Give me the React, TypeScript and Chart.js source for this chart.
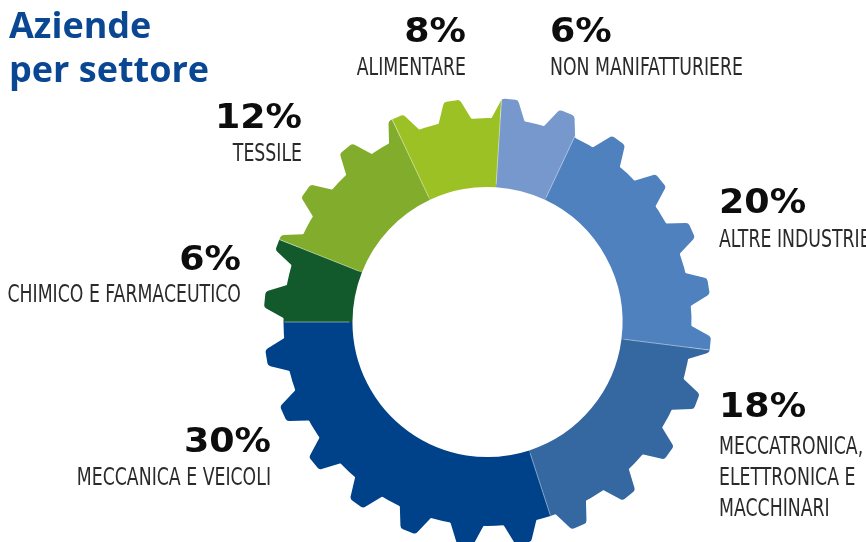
import React, { useEffect, useRef } from "react";
import { Chart, registerables } from "chart.js";

Chart.register(...registerables);

// ---- data ----
const categories = [
  "Non manifatturiere",
  "Altre industrie",
  "Meccatronica, elettronica e macchinari",
  "Meccanica e veicoli",
  "Chimico e farmaceutico",
  "Tessile",
  "Alimentare",
];
const values = [6, 20, 18, 30, 6, 12, 8];
const labelLines = [
  ["NON MANIFATTURIERE"],
  ["ALTRE INDUSTRIE"],
  ["MECCATRONICA,", "ELETTRONICA E", "MACCHINARI"],
  ["MECCANICA E VEICOLI"],
  ["CHIMICO E FARMACEUTICO"],
  ["TESSILE"],
  ["ALIMENTARE"],
];
const colors = ["#7698cd", "#4f81bf", "#3567a1", "#00428a", "#125a2b", "#82ad2c", "#9bc125"];
const titleLines = ["Aziende", "per settore"];

// ---- layout (not data) ----
const labelPos = [
  { x: 550, align: "left", pctY: 42, lineY: 75 },
  { x: 719, align: "left", pctY: 213, lineY: 247 },
  { x: 719, align: "left", pctY: 417, lineY: 454 },
  { x: 271, align: "right", pctY: 452, lineY: 485 },
  { x: 241, align: "right", pctY: 270, lineY: 302 },
  { x: 302, align: "right", pctY: 128, lineY: 161 },
  { x: 466, align: "right", pctY: 42, lineY: 75 },
];
const TEETH = 24;
const TOOTH_PHASE_DEG = 5.8;
const TOOTH_HEIGHT = 20;
const BASE_HALF_PX = 17;
const TIP_HALF_PX = 8;

function gearOutline(cx: number, cy: number, R: number, T: number) {
  const pts: { x: number; y: number; r: number }[] = [];
  const period = (Math.PI * 2) / TEETH;
  const bh = BASE_HALF_PX / R;
  const th = TIP_HALF_PX / T;
  for (let k = 0; k < TEETH; k++) {
    const c = -Math.PI / 2 + (TOOTH_PHASE_DEG * Math.PI) / 180 + k * period;
    pts.push({ x: cx + R * Math.cos(c - bh), y: cy + R * Math.sin(c - bh), r: 3 });
    pts.push({ x: cx + T * Math.cos(c - th), y: cy + T * Math.sin(c - th), r: 4 });
    pts.push({ x: cx + T * Math.cos(c + th), y: cy + T * Math.sin(c + th), r: 4 });
    pts.push({ x: cx + R * Math.cos(c + bh), y: cy + R * Math.sin(c + bh), r: 3 });
  }
  const p = new Path2D();
  const n = pts.length;
  const last = pts[n - 1];
  p.moveTo((last.x + pts[0].x) / 2, (last.y + pts[0].y) / 2);
  for (let i = 0; i < n; i++) {
    const a = pts[i];
    const b = pts[(i + 1) % n];
    p.arcTo(a.x, a.y, b.x, b.y, a.r);
  }
  p.closePath();
  return p;
}

const gearPlugin = {
  id: "gearTeeth",
  afterDatasetsDraw(chart: any) {
    const meta = chart.getDatasetMeta(0);
    const arcs = meta.data;
    if (!arcs.length) return;
    const ctx = chart.ctx as CanvasRenderingContext2D;
    const first = arcs[0].getProps(["x", "y", "outerRadius", "innerRadius"], true);
    const cx = first.x, cy = first.y;
    const R = first.outerRadius - 1;
    const T = first.outerRadius + TOOTH_HEIGHT;
    const outline = gearOutline(cx, cy, R, T);
    outline.arc(cx, cy, first.innerRadius + 3, 0, Math.PI * 2);
    arcs.forEach((arc: any) => {
      const { startAngle, endAngle } = arc.getProps(["startAngle", "endAngle"], true);
      ctx.save();
      ctx.beginPath();
      ctx.moveTo(cx, cy);
      ctx.arc(cx, cy, T + 6, startAngle, endAngle);
      ctx.closePath();
      ctx.clip();
      ctx.fillStyle = arc.options.backgroundColor;
      ctx.fill(outline, "evenodd");
      ctx.restore();
    });
    // thin separators
    ctx.save();
    ctx.clip(outline, "evenodd");
    ctx.strokeStyle = "rgba(255,255,255,0.45)";
    ctx.lineWidth = 1;
    arcs.forEach((arc: any) => {
      const { startAngle } = arc.getProps(["startAngle"], true);
      ctx.beginPath();
      ctx.moveTo(cx + first.innerRadius * Math.cos(startAngle), cy + first.innerRadius * Math.sin(startAngle));
      ctx.lineTo(cx + (T + 4) * Math.cos(startAngle), cy + (T + 4) * Math.sin(startAngle));
      ctx.stroke();
    });
    ctx.restore();
  },
};

const textPlugin = {
  id: "gearText",
  afterDraw(chart: any) {
    const ctx = chart.ctx as CanvasRenderingContext2D;
    ctx.save();
    // title
    ctx.fillStyle = "#0a4793";
    ctx.font = "bold 36px 'Open Sans', 'Noto Sans', sans-serif";
    ctx.textAlign = "left";
    ctx.textBaseline = "alphabetic";
    titleLines.forEach((t, i) => ctx.fillText(t, 9, 38 + i * 44));

    values.forEach((v, i) => {
      const pos = labelPos[i];
      ctx.textAlign = pos.align as CanvasTextAlign;
      // percentage
      ctx.save();
      ctx.translate(pos.x, pos.pctY);
      ctx.scale(1.07, 1);
      ctx.fillStyle = "#0d0d0d";
      ctx.font = "bold 34px 'DejaVu Sans', sans-serif";
      ctx.fillText(`${v}%`, 0, 0);
      ctx.restore();
      // category lines
      labelLines[i].forEach((line, j) => {
        ctx.save();
        ctx.translate(pos.x, pos.lineY + j * 31);
        ctx.scale(0.77, 1);
        ctx.fillStyle = "#2a2a2a";
        ctx.font = "25px 'Liberation Sans Narrow', 'DejaVu Sans Condensed', sans-serif";
        ctx.fillText(line, 0, 0);
        ctx.restore();
      });
    });
    ctx.restore();
  },
};

export default function App() {
  const ref = useRef<HTMLCanvasElement>(null);
  useEffect(() => {
    const canvas = ref.current;
    if (!canvas) return;
    const chart = new Chart(canvas, {
      type: "doughnut",
      data: {
        labels: categories,
        datasets: [
          {
            data: values,
            backgroundColor: colors,
            borderWidth: 0,
            hoverOffset: 0,
          },
        ],
      },
      options: {
        responsive: false,
        animation: false,
        events: [],
        rotation: 3.6,
        cutout: "66.2%",
        radius: 204,
        layout: { padding: { left: 109, top: 102, right: 0, bottom: 0 } },
        plugins: {
          legend: { display: false },
          tooltip: { enabled: false },
          title: { display: false },
        },
      } as any,
      plugins: [gearPlugin, textPlugin],
    });
    return () => chart.destroy();
  }, []);
  return (
    <div style={{ position: "fixed", left: 0, top: 0, width: 866, height: 542, background: "#ffffff" }}>
      <canvas ref={ref} width={866} height={542} style={{ display: "block" }} />
    </div>
  );
}
